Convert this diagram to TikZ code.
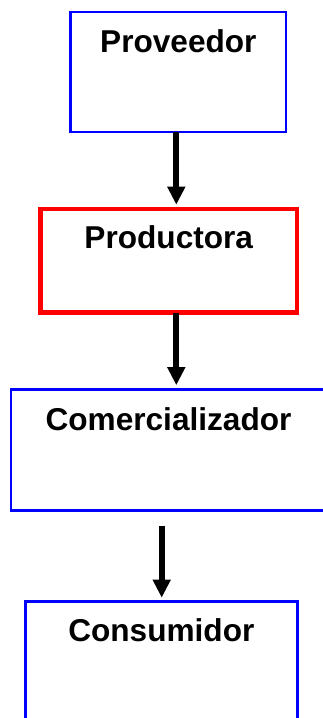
\documentclass[tikz,border=0pt]{standalone}
\usepackage{fontspec}
\setmainfont{Liberation Sans}
\usetikzlibrary{arrows.meta}
\definecolor{bxblue}{RGB}{0,0,255}
\definecolor{bxred}{RGB}{255,0,0}
\tikzset{
  box/.style={draw=bxblue, line width=2.6pt, rectangle, inner sep=0pt, outer sep=0pt, fill=white},
  redbox/.style={box, draw=bxred, line width=4.3pt},
  lbl/.style={anchor=base, inner sep=0pt, font=\fontsize{31.6}{38}\selectfont\bfseries},
  arr/.style={line width=6pt, -{Triangle[width=17pt,length=18pt]}}
}
\begin{document}
\begin{tikzpicture}[x=1pt,y=1pt]
\useasboundingbox (0,0) rectangle (323,-718);
\clip (0,0) rectangle (323,-718);
\fill[white] (0,0) rectangle (323,-718);
\node[box, minimum width=215.3pt, minimum height=120pt] (prov) at (178.35,-72) {};
\node[lbl] (tprov) at ([yshift=-40pt]prov.north) {Proveedor};
\node[redbox, minimum width=256.5pt, minimum height=103.8pt] (prod) at (168.75,-260.6) {};
\node[lbl] (tprod) at ([yshift=-39.3pt]prod.north) {Productora};
\node[box, minimum width=315.4pt, minimum height=120.6pt] (com) at (168.5,-450) {};
\node[lbl] (tcom) at ([yshift=-40.3pt]com.north) {Comercializador};
\node[box, minimum width=271.7pt, minimum height=120pt] (cons) at (161.35,-661.7) {};
\node[lbl] (tcons) at ([yshift=-40pt]cons.north) {Consumidor};
\draw[arr, shorten >=4pt] ([xshift=-2.05pt]prov.south) -- ([xshift=-2.05pt]prov.south |- prod.north);
\draw[arr, shorten >=4.5pt] ([xshift=7.55pt]prod.south) -- ([xshift=7.55pt]prod.south |- com.north);
\coordinate (a3) at (161.7,-525.7);
\draw[arr, shorten >=4pt] (a3) -- (a3 |- cons.north);
\end{tikzpicture}
\end{document}
